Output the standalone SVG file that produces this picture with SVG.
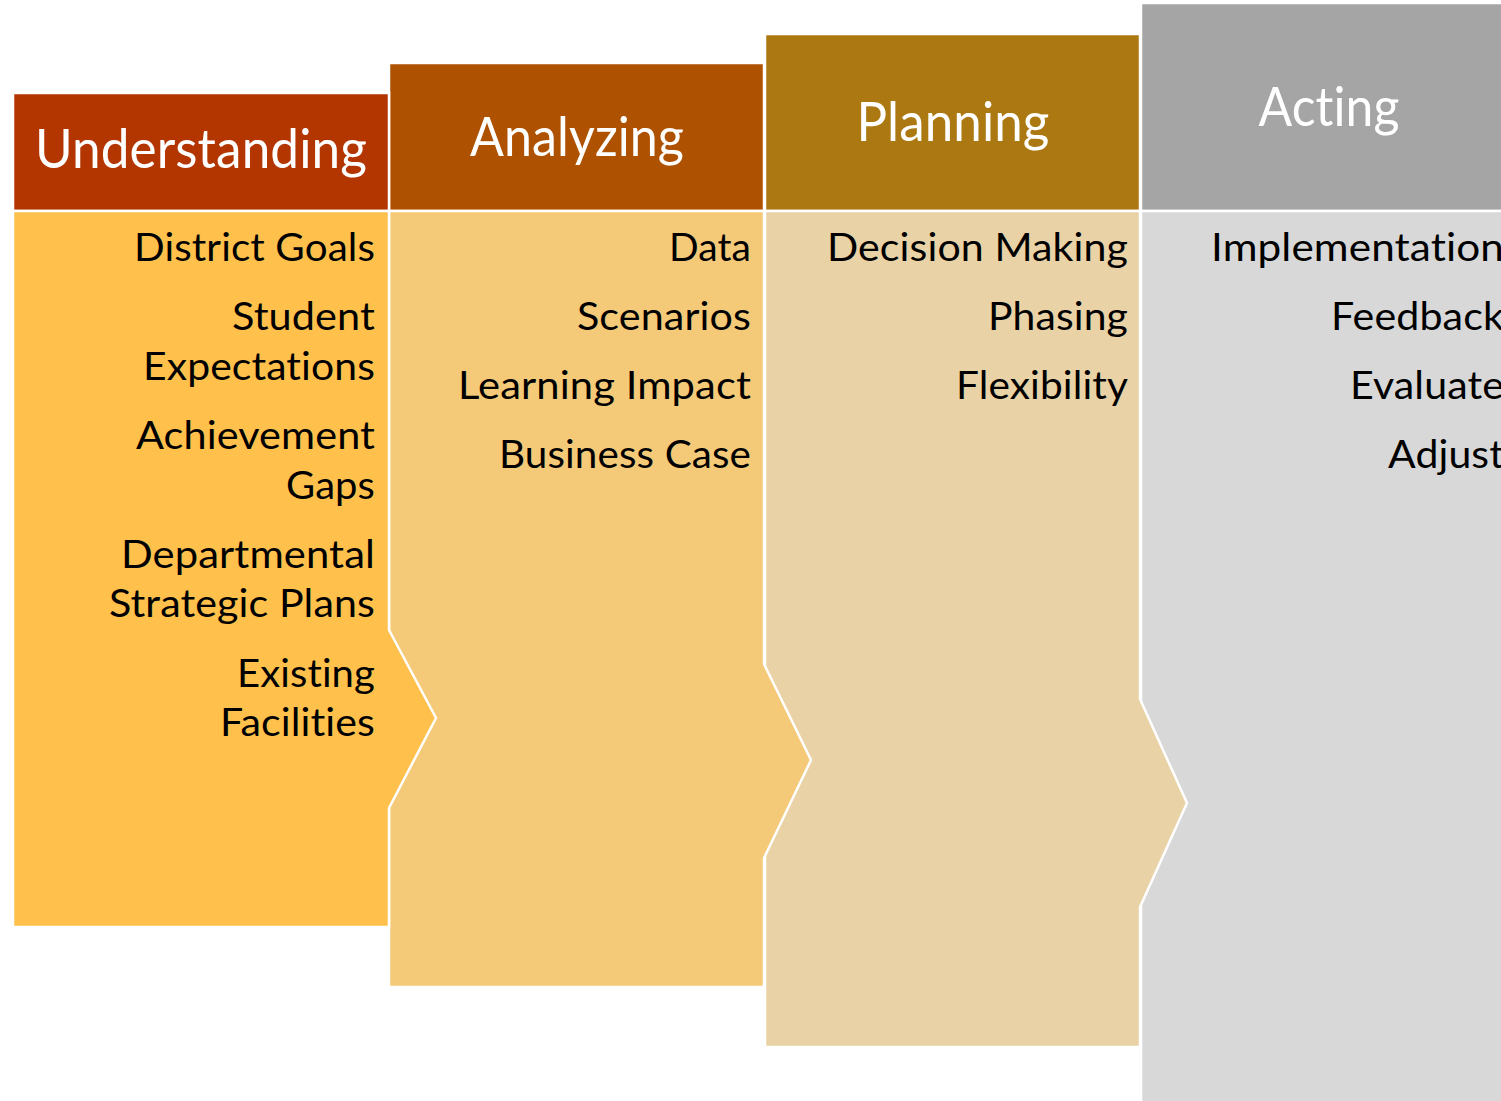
<svg xmlns="http://www.w3.org/2000/svg" width="1501" height="1101" viewBox="0 0 1501 1101">
<style>
.hdr{font-family:Lato,"Open Sans","Liberation Sans",sans-serif;font-size:54px;fill:#fff;text-anchor:middle;font-variant-ligatures:none;font-feature-settings:"liga" 0,"clig" 0,"dlig" 0;letter-spacing:0.1px}
.itm{font-family:Lato,"Open Sans","Liberation Sans",sans-serif;font-size:38px;fill:#000;text-anchor:end;font-variant-ligatures:none;font-feature-settings:"liga" 0,"clig" 0,"dlig" 0;letter-spacing:0.1px}
.sh{stroke:#fff;stroke-width:2.5}
</style>
<rect width="1501" height="1101" fill="#fff"/>
<g id="acting">
<rect class="sh" x="1141" y="3" width="380" height="208" fill="#A5A5A5"/>
<rect class="sh" x="1141" y="211" width="380" height="895" fill="#D8D8D8"/>
<text class="hdr" x="1329" y="126" textLength="141" lengthAdjust="spacingAndGlyphs">Acting</text>
<text class="itm" x="1504" y="261" textLength="293" lengthAdjust="spacingAndGlyphs">Implementation</text>
<text class="itm" x="1504" y="330" textLength="173" lengthAdjust="spacingAndGlyphs">Feedback</text>
<text class="itm" x="1504" y="399" textLength="154" lengthAdjust="spacingAndGlyphs">Evaluate</text>
<text class="itm" x="1504" y="468" textLength="116" lengthAdjust="spacingAndGlyphs">Adjust</text>
</g>
<g id="planning">
<rect class="sh" x="765" y="34" width="375" height="177" fill="#AB7811"/>
<path class="sh" d="M765,211 H1140 V699 L1187,803 L1140,907 V1047 H765 Z" fill="#E9D2A5"/>
<text class="hdr" x="953" y="141" textLength="193" lengthAdjust="spacingAndGlyphs">Planning</text>
<text class="itm" x="1128" y="261" textLength="301" lengthAdjust="spacingAndGlyphs">Decision Making</text>
<text class="itm" x="1128" y="330" textLength="140" lengthAdjust="spacingAndGlyphs">Phasing</text>
<text class="itm" x="1128" y="399" textLength="172" lengthAdjust="spacingAndGlyphs">Flexibility</text>
</g>
<g id="analyzing">
<rect class="sh" x="389" y="63" width="375" height="148" fill="#AE5100"/>
<path class="sh" d="M389,211 H764 V664 L811,760 L764,858 V987 H389 Z" fill="#F4CA79"/>
<text class="hdr" x="577" y="156" textLength="214" lengthAdjust="spacingAndGlyphs">Analyzing</text>
<text class="itm" x="751" y="261" textLength="82" lengthAdjust="spacingAndGlyphs">Data</text>
<text class="itm" x="751" y="330" textLength="174" lengthAdjust="spacingAndGlyphs">Scenarios</text>
<text class="itm" x="751" y="399" textLength="293" lengthAdjust="spacingAndGlyphs">Learning Impact</text>
<text class="itm" x="751" y="468" textLength="252" lengthAdjust="spacingAndGlyphs">Business Case</text>
</g>
<g id="understanding">
<rect class="sh" x="13" y="93" width="376" height="118" fill="#B33500"/>
<path class="sh" d="M13,211 H389 V630 L436,718 L389,808 V927 H13 Z" fill="#FFC04C"/>
<text class="hdr" x="201" y="168" textLength="332" lengthAdjust="spacingAndGlyphs">Understanding</text>
<text class="itm" x="375" y="261" textLength="241" lengthAdjust="spacingAndGlyphs">District Goals</text>
<text class="itm" x="375" y="330" textLength="143" lengthAdjust="spacingAndGlyphs">Student</text>
<text class="itm" x="375" y="380" textLength="232" lengthAdjust="spacingAndGlyphs">Expectations</text>
<text class="itm" x="375" y="449" textLength="239" lengthAdjust="spacingAndGlyphs">Achievement</text>
<text class="itm" x="375" y="499" textLength="89" lengthAdjust="spacingAndGlyphs">Gaps</text>
<text class="itm" x="375" y="568" textLength="254" lengthAdjust="spacingAndGlyphs">Departmental</text>
<text class="itm" x="375" y="617" textLength="266" lengthAdjust="spacingAndGlyphs">Strategic Plans</text>
<text class="itm" x="375" y="687" textLength="138" lengthAdjust="spacingAndGlyphs">Existing</text>
<text class="itm" x="375" y="736" textLength="155" lengthAdjust="spacingAndGlyphs">Facilities</text>
</g>
<g id="connectors"></g>
</svg>
